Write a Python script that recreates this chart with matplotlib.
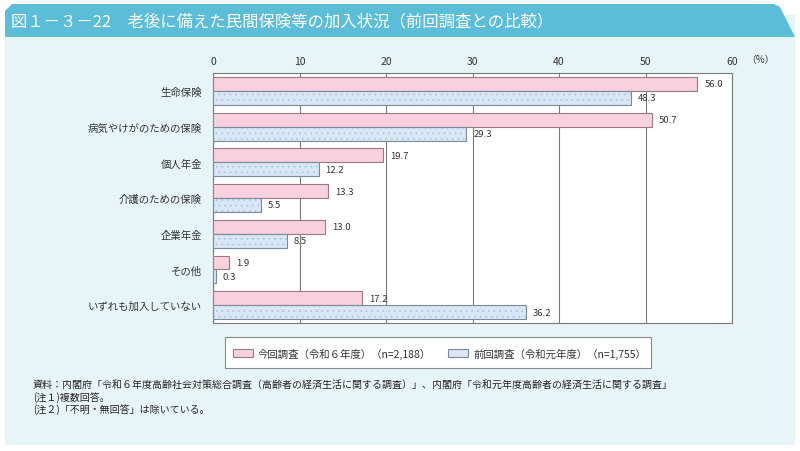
import matplotlib.pyplot as plt
import numpy as np
from matplotlib.patches import FancyBboxPatch, Polygon, Rectangle

plt.rcParams['font.family'] = ['Noto Sans CJK JP', 'DejaVu Sans']
plt.rcParams['hatch.linewidth'] = 0.6

# データ
categories = ['生命保険', '病気やけがのための保険', '個人年金', '介護のための保険',
              '企業年金', 'その他', 'いずれも加入していない']
current = [56.0, 50.7, 19.7, 13.3, 13.0, 1.9, 17.2]   # 令和6年度
previous = [48.3, 29.3, 12.2, 5.5, 8.5, 0.3, 36.2]    # 令和元年度
label_current = '今回調査（令和６年度）（n=2,188）'
label_previous = '前回調査（令和元年度）（n=1,755）'
xticks = [0, 10, 20, 30, 40, 50, 60]

title = '図１－３－22　老後に備えた民間保険等の加入状況（前回調査との比較）'
notes = ['資料：内閣府「令和６年度高齢社会対策総合調査（高齢者の経済生活に関する調査）」、内閣府「令和元年度高齢者の経済生活に関する調査」',
         '(注１)複数回答。',
         '(注２)「不明・無回答」は除いている。']

W, H = 800, 452
fig = plt.figure(figsize=(8, 4.52), dpi=100)
fig.patch.set_facecolor('white')

# ---------- 背景パネルとタイトル帯 ----------
panel = Rectangle((5 / W, 1 - 446 / H), 790 / W, 430 / H, transform=fig.transFigure,
                  facecolor='#e8f5f7', edgecolor='none', zorder=-2)
fig.patches.append(panel)
banner = Polygon([(5 / W, 1 - 38 / H), (5 / W, 1 - 12 / H), (12 / W, 1 - 5 / H),
                  (774 / W, 1 - 5 / H), (780 / W, 1 - 8 / H), (795 / W, 1 - 38 / H)],
                 closed=True, transform=fig.transFigure,
                 facecolor='#5bbdd8', edgecolor='none', zorder=-1)
fig.patches.append(banner)
fig.text(11 / W, 1 - 22 / H, title, color='white', fontsize=11.8, va='center', ha='left')

# ---------- 棒グラフ ----------
ax = fig.add_axes([213 / W, 1 - 324 / H, 519 / W, 250 / H])
ax.set_zorder(5)
ax.set_facecolor('white')
n = len(categories)
y = np.arange(n)
h = 0.39

ax.barh(y - h / 2, current, height=h, color='#f8d0de', edgecolor='#9a7a84',
        linewidth=0.8, zorder=3)
ax.barh(y + h / 2, previous, height=h, color='#d8e6f6', edgecolor='none', zorder=3)
ax.barh(y + h / 2, previous, height=h, color='none', edgecolor='#b4c8de',
        hatch='...', linewidth=0, zorder=4)
ax.barh(y + h / 2, previous, height=h, color='none', edgecolor='#7f8a99',
        linewidth=0.8, zorder=5)

for i in range(n):
    ax.text(current[i] + 0.8, y[i] - h / 2, f'{current[i]:.1f}', va='center',
            ha='left', fontsize=6.8, color='#333333')
    ax.text(previous[i] + 0.8, y[i] + h / 2, f'{previous[i]:.1f}', va='center',
            ha='left', fontsize=6.8, color='#333333')

ax.set_xlim(0, 60)
ax.set_ylim(n - 0.5, -0.5)
ax.set_xticks(xticks)
ax.xaxis.tick_top()
ax.tick_params(axis='x', length=0, pad=5, labelsize=7.5, colors='#333333')
ax.set_yticks(y)
ax.set_yticklabels(categories, fontsize=7.5, color='#333333')
ax.tick_params(axis='y', length=0, pad=8)
ax.grid(axis='x', color='#7a7a7a', linewidth=0.8, zorder=0)
for s in ax.spines.values():
    s.set_color('#7a7a7a')
    s.set_linewidth(0.8)
fig.text(746 / W, 1 - 60 / H, '（%）', fontsize=7, color='#333333', va='center', ha='left')

# ---------- 凡例 ----------
leg = FancyBboxPatch((225 / W, 1 - 369 / H), 426 / W, 31 / H, transform=fig.transFigure,
                     boxstyle='square,pad=0', facecolor='white', edgecolor='#8a8a8a',
                     linewidth=0.8, zorder=2)
fig.patches.append(leg)
fig.patches.append(Rectangle((233 / W, 1 - 358 / H), 20 / W, 8 / H, transform=fig.transFigure,
                             facecolor='#f8d0de', edgecolor='#9a7a84', linewidth=0.8, zorder=3))
fig.text(258 / W, 1 - 354 / H, label_current, fontsize=7.5, va='center', ha='left', color='#333333')
fig.patches.append(Rectangle((448 / W, 1 - 358 / H), 20 / W, 8 / H, transform=fig.transFigure,
                             facecolor='#d8e6f6', edgecolor='#7f8a99', linewidth=0.8, zorder=3))
fig.text(473 / W, 1 - 354 / H, label_previous, fontsize=7.5, va='center', ha='left', color='#333333')

# ---------- 注記 ----------
for k, line in enumerate(notes):
    fig.text(33 / W, 1 - (385 + k * 12.5) / H, line, fontsize=7.2, va='center', ha='left',
             color='#222222')

fig.savefig('out.png', dpi=100, facecolor=fig.get_facecolor())
